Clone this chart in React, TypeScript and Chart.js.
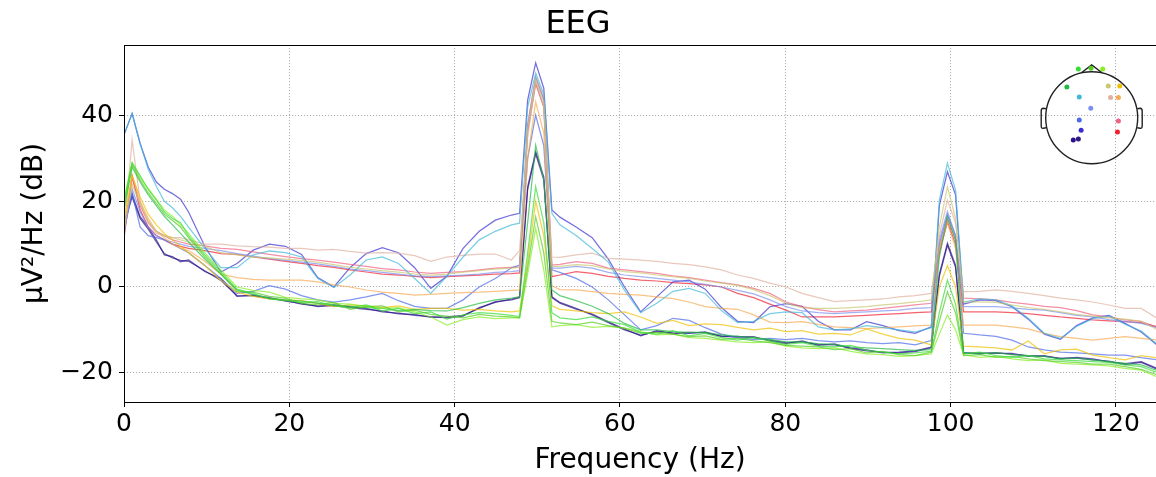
import React, { useEffect, useRef } from "react";
import { Chart, registerables } from "chart.js";

Chart.register(...registerables);

// Frequency bins (Hz)
const freqs = [
  0, 0.98, 1.95, 2.93, 3.91, 4.88, 5.86, 6.84, 7.81, 9.77,
  11.72, 13.67, 15.63, 17.58, 19.53, 21.48, 23.44, 25.39, 27.34, 29.3,
  31.25, 33.2, 35.16, 37.11, 39.06, 41.02, 42.97, 44.92, 46.88, 47.85,
  48.83, 49.8, 50.78, 51.76, 52.73, 54.69, 56.64, 58.59, 60.55, 62.5,
  64.45, 66.41, 68.36, 70.31, 72.27, 74.22, 76.17, 78.13, 80.08, 82.03,
  83.98, 85.94, 87.89, 89.84, 91.8, 93.75, 95.7, 97.66, 98.63, 99.61,
  100.59, 101.56, 103.52, 105.47, 107.42, 109.38, 111.33, 113.28, 115.23, 117.19,
  119.14, 121.09, 123.05, 125,
];

// PSD values per channel (dB)
const psdFp1 = [
  20, 29, 26, 22.7, 20.3, 17.5, 16, 15, 12, 7.5,
  3.5, -0.5, -1.5, -2.8, -3.2, -3.6, -3.4, -4.4, -4.8, -4.2,
  -5.6, -5, -6.2, -5.8, -7.5, -6.5, -6, -6.2, -6.6, -6.9,
  8, 23.4, 15, -6, -7.2, -7.6, -7, -8, -8.8, -10.6,
  -11, -10.2, -11.4, -10.8, -11.8, -12.4, -11.8, -12.6, -13.4, -13,
  -13.8, -14, -13.6, -14.8, -15.2, -15.6, -15.4, -15, -6, 1.6,
  -4, -15.6, -15.2, -16, -16.4, -16, -16.8, -17, -17.2, -17.4,
  -17.6, -18.2, -18.6, -20,
];
const psdFpz = [
  19, 28.5, 25, 22, 19.5, 17, 15.5, 14, 11.5, 7,
  3, -1, -1.2, -2.2, -2.6, -3.8, -4.2, -3.6, -5.2, -4.6,
  -4.4, -5.8, -5.4, -6.4, -6.8, -7.2, -6.4, -6.8, -7, -7.2,
  4.5, 16.4, 8, -8, -8.4, -8.8, -8.2, -9, -9.6, -10.8,
  -10.6, -11, -11.6, -11.4, -12.2, -12, -12.6, -13, -13.6, -13.8,
  -14, -14.6, -14.4, -15.4, -15, -15.8, -16, -15.2, -8, -1.1,
  -6, -16, -15.8, -16.4, -16.2, -16.8, -17.2, -17.4, -17.6, -18,
  -18, -18.6, -19.2, -20.5,
];
const psdFp2 = [
  20.5, 29, 25.5, 23, 20.5, 18, 16.5, 14.5, 12.5, 8,
  4, 0, -0.8, -1.2, -2.4, -2.8, -3, -3.8, -4, -4.6,
  -5, -4.8, -5.8, -7, -8.9, -7.6, -7, -7.4, -7.2, -7.2,
  3, 13.7, 4, -9.3, -9, -8.8, -9.4, -9.2, -9.6, -10.4,
  -11.2, -11, -11.8, -12, -12.4, -12.8, -13, -12.8, -13.8, -14.2,
  -14.4, -14.2, -15, -15.6, -15.8, -16.2, -16, -15.6, -11, -6.5,
  -10, -15.8, -16.4, -16.2, -16.8, -17.2, -17, -17.8, -18, -18.2,
  -18.4, -19, -19.4, -21,
];
const psdF7 = [
  18, 28, 24.5, 21.5, 19, 16.5, 14.5, 12.5, 10.5, 6.5,
  3, -0.7, -1.8, -2.6, -3, -3.3, -3.8, -4.2, -4.5, -4.8,
  -5, -5.5, -5.2, -5.5, -5.6, -4.8, -3.8, -3, -2.6, -2.3,
  15, 33.1, 25, -0.7, -2, -3.2, -4.5, -6.2, -8.5, -10,
  -10, -10.4, -10.6, -10.6, -11.2, -11.5, -11.8, -12.2, -12.8, -12.8,
  -13.2, -13.4, -14, -14.2, -14.4, -14.6, -14.8, -14.6, 7, 16.4,
  11, -15.4, -15.6, -15.3, -15.8, -16, -16.2, -16.8, -16.6, -17,
  -17.4, -17.8, -18.2, -19.5,
];
const psdFz = [
  13.5, 24, 19.5, 15.5, 13, 12, 11.5, 11, 10.5, 9.5,
  8, 7.5, 7, 6.8, 6.5, 6.2, 5.8, 5.2, 4.6, 4.2,
  3.8, 3.5, 3, 2.8, 3, 3.5, 3.8, 4.2, 4.4, 4.6,
  37, 48.5, 43, 4.8, 4.8, 5.2, 5, 4.2, 3.6, 3.3,
  2.8, 2.4, 2, 1.4, 0.9, 0.4, -0.6, -2, -3.8, -4.8,
  -5, -5, -4.8, -4.6, -4.2, -3.9, -3.5, -3, 14, 23.4,
  16, -3.5, -3.5, -3.6, -4.2, -4.8, -5.2, -5.8, -6.4, -6.8,
  -7.2, -7.5, -8, -10,
];
const psdF8 = [
  16, 26, 21, 17, 14.5, 12.5, 11, 9.5, 8, 5,
  1.5, -1.2, -2.2, -2.8, -3, -3.2, -3.8, -4.6, -4.2, -4.4,
  -4.8, -4.4, -5.2, -5, -5, -5.4, -5.2, -5.6, -5.8, -5.6,
  6, 20, 12, -4.4, -5.2, -5.6, -6, -6.2, -5.8, -7,
  -8.5, -7.8, -9, -8.6, -8.8, -9.4, -10, -9.6, -10.4, -10.2,
  -11, -10.8, -11.2, -9.8, -11, -12, -12.4, -13.5, 0, 5,
  0, -13.8, -14, -14.2, -14.7, -12.6, -15.6, -14.7, -14.5, -15.9,
  -16.5, -17, -16, -16.5,
];
const psdFC5 = [
  35.5, 40.5, 33.5, 27.5, 23.5, 20, 18.5, 16.5, 14, 9,
  4.5, 4.5, 7.5, 8.4, 8, 7, 2, -0.1, 2.8, 6.3,
  7, 5.5, 2, -1.5, 2.5, 7, 11, 13, 14.5, 14.9,
  42, 49.9, 45, 17.2, 14.5, 12, 9, 5.8, -0.8, -6,
  -3.8, -1, -0.3, -1.5, -5.5, -8.3, -8, -6.2, -5.8, -6,
  -9.3, -10, -9.8, -9, -9.5, -10, -10.5, -9.5, 20.3, 28.9,
  22.6, -3.5, -2.8, -3, -4.4, -7.3, -10.8, -12, -9.2, -7.4,
  -6.8, -8.7, -10.3, -13.4,
];
const psdFC2 = [
  13, 34.3, 20, 15, 12.5, 12, 11.5, 11.5, 11, 10,
  10, 9.6, 9.4, 9.3, 9, 9, 8.6, 8.8, 8.3, 7.9,
  8, 7.9, 7.3, 6, 7, 7.4, 7.7, 7.7, 6.3, 8.5,
  35, 48, 42, 7, 6.9, 7.5, 7.9, 6.7, 6.5, 6.3,
  6, 5.5, 5.2, 4.7, 4, 2.8, 2, 0.9, 0, -1.5,
  -2.5, -3.4, -3.2, -3, -2.8, -2.3, -2, -1.5, 12, 20.3,
  15, -1.1, -1, -0.7, -1, -1.5, -2, -2.6, -3, -3.5,
  -4.2, -5, -5, -7.3,
];
const psdFC6 = [
  13, 26, 20, 16, 13, 11.5, 10, 9, 8.5, 6,
  3, 2.2, 1.8, 1.6, 1.6, 1.6, 1.2, 0.5, 0, -0.7,
  -1.2, -1.5, -1.9, -1.7, -1.5, -1.3, -1.2, -1, -0.8, -0.7,
  30, 43.2, 36, 0.3, -0.6, -0.7, -1.1, -1.5, -1.7, -1.9,
  -2.3, -2.7, -3.5, -4.6, -5, -5.2, -6.5, -8.2, -8.3, -8.1,
  -8.7, -9.3, -9.5, -9.7, -9.5, -9.3, -9.1, -8.9, 9, 15,
  9, -8.9, -8.9, -8.9, -9.3, -9.8, -10.8, -11.6, -12, -12.4,
  -12, -11.6, -12, -12.4,
];
const psdCz = [
  12.5, 23, 17.5, 14, 12, 11, 10.5, 10, 9.5, 9,
  8.5, 7.8, 7.2, 6.6, 6.2, 5.8, 5.4, 4.8, 4.2, 3.8,
  3.4, 3, 2.6, 2.4, 2.6, 2.8, 3, 3.4, 3.6, 3.8,
  37.5, 48.8, 43.5, 4.4, 4.4, 4.8, 4.4, 3.4, 2.8, 2.4,
  2, 1.6, 1.2, 0.6, 0, -0.8, -1.6, -3, -4.6, -5.6,
  -6, -6.2, -6, -5.8, -5.6, -5.4, -5, -4.8, 11, 17.6,
  12, -4.6, -4.6, -4.6, -4.9, -5.2, -5.4, -6, -6.6, -7,
  -7.6, -8, -8.5, -9.5,
];
const psdC3 = [
  13, 22, 14, 12, 11.5, 11, 10, 9, 8, 5,
  2, -1.5, -1, 0.3, -0.5, -2, -3, -3.5, -3, -2.3,
  -1.5, -3.2, -4.5, -5, -5, -3, 0, 2, 4.5, 5.1,
  30, 40.1, 33, 4, 3.4, 2, 0, -3, -6.5, -10,
  -9, -7.3, -7.8, -9.5, -11, -11.8, -12.3, -12, -12.3, -12,
  -12.5, -12.8, -12.6, -13, -13.2, -13, -13.5, -12.5, 10, 17,
  12, -10.8, -11.2, -11.5, -12.4, -14, -14.7, -15.2, -15.4, -15.6,
  -15.9, -15.9, -16.5, -17,
];
const psdC4 = [
  12, 25.5, 19, 15, 13, 12, 11, 10.5, 10, 9.6,
  9, 8.8, 8.2, 7.6, 7.1, 6.6, 6.3, 5.8, 5.3, 4.8,
  4.3, 4, 3.5, 3.2, 3.4, 3.6, 4, 4.4, 4.6, 4.7,
  38, 49, 44, 5.1, 5.3, 5.9, 5.5, 4.4, 4, 3.6,
  3.2, 2.6, 2.2, 1.6, 1, 0.5, -0.3, -1.5, -3.5, -4.6,
  -5.3, -5.8, -5.6, -5.4, -5, -4.6, -4.2, -3.8, 9, 16,
  11, -2.6, -2.8, -3, -3.6, -4, -4.5, -4.8, -5.5, -6.5,
  -7, -7.7, -8, -9.5,
];
const psdP3 = [
  35.5, 40.5, 33.5, 28, 24.5, 22.8, 21.8, 20.5, 17.5, 9.5,
  3.5, 5.5, 8.6, 10, 9.5, 7.6, 2.2, 0, 4.5, 7.8,
  9.2, 8, 4.5, -0.3, 2.5, 9, 13, 15.6, 16.8, 17.2,
  43.6, 52.3, 46.4, 18, 16.3, 14, 11.5, 6.5, 0, -5.8,
  -2.3, 1.2, 1.6, -0.5, -4.8, -8, -8.3, -4.6, -3.9, -4.5,
  -8, -10, -10, -8.1, -9, -10.2, -10.8, -9.3, 19, 26.9,
  21.5, -4, -3, -3.2, -4.6, -7.5, -11, -12.2, -9, -7.2,
  -6.6, -8.5, -10.5, -13.6,
];
const psdP4 = [
  11.5, 26, 18, 14, 12, 11, 10, 9.5, 9, 8.5,
  7.8, 7.6, 7, 6.5, 6, 5.5, 5, 4.6, 4, 3.5,
  3, 2.8, 2.5, 2.2, 2.4, 2.6, 2.8, 3, 3.1, 3.3,
  36, 47.5, 42, 2.4, 2.8, 3.6, 3.2, 2.5, 2, 1.6,
  1.4, 1, 0.8, 0.5, 0, -1.5, -2.5, -4, -5.4, -7,
  -7, -7, -6.8, -6.6, -6.4, -6.2, -6, -5.8, 8, 15.2,
  10, -5.8, -5.8, -5.8, -6, -6.2, -6.6, -7, -7.3, -7.7,
  -7.9, -8.1, -8.3, -9.3,
];
const psdO1 = [
  15, 21.7, 16.4, 14, 11, 7.5, 7.1, 5.9, 6.3, 3.6,
  2, -2.2, -1.9, -2.5, -3.3, -3.8, -4.6, -4.2, -4.6, -5,
  -5.8, -6.1, -6.6, -6.9, -7.2, -6.8, -4.8, -3.6, -2.8, -2.3,
  23.4, 31.6, 25.7, -2.3, -3.6, -5, -6.5, -8.3, -10, -11.2,
  -10.4, -10.7, -10.8, -10.5, -11.6, -11.5, -11.8, -12.4, -13, -12.8,
  -13.4, -13.5, -14.2, -14.7, -15.4, -15.2, -14.9, -14, 3, 10.2,
  5.1, -15.5, -15.4, -15.5, -15.5, -16.2, -16, -16.8, -16.4, -16.8,
  -17.5, -17.9, -17.4, -19,
];
const psdPO3 = [
  14.5, 21, 16, 13.5, 10.5, 7.8, 6.8, 6.2, 6, 3.8,
  1.5, -2, -2.1, -2.7, -3.1, -4, -4.4, -4.4, -4.8, -5.2,
  -5.6, -6.3, -6.4, -7.1, -7, -6.6, -5, -3.4, -3, -2.5,
  22.8, 31, 25, -2.5, -3.8, -5.2, -6.3, -8.1, -9.8, -11.4,
  -10.2, -10.9, -10.6, -10.7, -11.4, -11.7, -11.6, -12.6, -13.2, -12.6,
  -13.6, -13.3, -14.4, -14.9, -15.2, -15.4, -15.1, -14.2, 2.5, 9.8,
  4.6, -15.3, -15.6, -15.3, -15.7, -16, -16.2, -16.6, -16.6, -17,
  -17.3, -18.1, -17.6, -19.2,
];

const channelNames = ["Fp1", "Fpz", "Fp2", "F7", "Fz", "F8", "FC5", "FC2", "FC6", "Cz", "C3", "C4", "P3", "P4", "O1", "PO3"];
const channelValues = [psdFp1, psdFpz, psdFp2, psdF7, psdFz, psdF8, psdFC5, psdFC2, psdFC6, psdCz, psdC3, psdC4, psdP3, psdP4, psdO1, psdPO3];
const channelColors = [
  "#33dd33", "#55cc22", "#88ee22", "#22bb44", "#c8c870", "#f0c000",
  "#40b8d8", "#e0b0a0", "#f8a850", "#7a90f0", "#4a6ae8", "#f06080",
  "#3a30d0", "#f02030", "#2a1090", "#301a80",
];
// sensor positions in head-radius units (x right, y down)
const sensorPos = [
  [-0.29, -1.06], [-0.015, -1.075], [0.24, -1.06], [-0.54, -0.67], [0.36, -0.69], [0.61, -0.69],
  [-0.27, -0.45], [0.41, -0.44], [0.58, -0.44], [-0.02, -0.21], [-0.27, 0.05], [0.58, 0.07],
  [-0.23, 0.27], [0.56, 0.31], [-0.4, 0.48], [-0.29, 0.46],
];

const xTicksMax = 124.84;
const yMin = -26.84;
const yMax = 56.48;

function withAlpha(hex: string, a: number) {
  const n = parseInt(hex.slice(1), 16);
  return `rgba(${(n >> 16) & 255},${(n >> 8) & 255},${n & 255},${a})`;
}

const FONT = "'DejaVu Sans', 'Liberation Sans', sans-serif";

const framePlugin = {
  id: "frame",
  afterDraw(chart: any) {
    const { ctx, chartArea } = chart;
    ctx.save();
    ctx.strokeStyle = "#000";
    ctx.lineWidth = 1;
    ctx.strokeRect(chartArea.left + 0.5, chartArea.top + 0.5, chartArea.right - chartArea.left, chartArea.bottom - chartArea.top);
    ctx.restore();
  },
};

const headPlugin = {
  id: "head",
  afterDraw(chart: any) {
    const { ctx, chartArea } = chart;
    const cx = chartArea.right - 64.3;
    const cy = chartArea.top + 72.8;
    const r = 46;
    ctx.save();
    ctx.strokeStyle = "#222";
    ctx.lineWidth = 1.4;
    ctx.beginPath();
    ctx.arc(cx, cy, r, 0, Math.PI * 2);
    ctx.stroke();
    // nose
    ctx.beginPath();
    ctx.moveTo(cx - 10, cy - r * 0.985);
    ctx.lineTo(cx, cy - r * 1.15);
    ctx.lineTo(cx + 10, cy - r * 0.985);
    ctx.stroke();
    // ears
    for (const s of [-1, 1]) {
      ctx.beginPath();
      ctx.moveTo(cx + s * r * 0.99, cy - 9);
      ctx.lineTo(cx + s * (r + 2.5), cy - 9.5);
      ctx.quadraticCurveTo(cx + s * (r + 4.5), cy - 9.5, cx + s * (r + 4.5), cy - 6.5);
      ctx.lineTo(cx + s * (r + 4.5), cy + 8);
      ctx.quadraticCurveTo(cx + s * (r + 4.5), cy + 11, cx + s * (r + 2.5), cy + 10.5);
      ctx.lineTo(cx + s * r * 0.99, cy + 10);
      ctx.stroke();
    }
    sensorPos.forEach((p, i) => {
      ctx.beginPath();
      ctx.fillStyle = channelColors[i];
      ctx.arc(cx + p[0] * r, cy + p[1] * r, 2.5, 0, Math.PI * 2);
      ctx.fill();
    });
    ctx.restore();
  },
};

export default function App() {
  const ref = useRef<HTMLCanvasElement | null>(null);
  useEffect(() => {
    if (!ref.current) return;
    const datasets = channelValues.map((vals, i) => ({
      label: channelNames[i],
      data: vals.map((v, k) => ({ x: freqs[k], y: v })),
      borderColor: withAlpha(channelColors[i], 0.7),
      borderWidth: 1.25,
      pointRadius: 0,
      tension: 0,
      fill: false,
    }));
    const chart = new Chart(ref.current, {
      type: "line",
      data: { datasets },
      plugins: [framePlugin, headPlugin],
      options: {
        animation: false,
        responsive: false,
        devicePixelRatio: 1,
        layout: { padding: 0 },
        plugins: {
          legend: { display: false },
          tooltip: { enabled: false },
          title: {
            display: true,
            text: "EEG",
            color: "#000",
            font: { family: FONT, size: 32, weight: "normal" },
            padding: { top: 5, bottom: 1.6 },
          },
        },
        scales: {
          x: {
            type: "linear",
            min: 0,
            max: xTicksMax,
            afterFit: (s: any) => { s.height = 75; },
            ticks: {
              stepSize: 20,
              includeBounds: false,
              color: "#000",
              padding: 2,
              maxRotation: 0,
              font: { family: FONT, size: 25 },
            },
            grid: { color: "#b0b0b0", lineWidth: 1, tickLength: 5, tickColor: "#000", tickWidth: 1, tickBorderDash: [] },
            border: { display: false, dash: [1.2, 1.8] },
            title: {
              display: true,
              text: "Frequency (Hz)",
              color: "#000",
              font: { family: FONT, size: 28 },
              padding: { top: 0, bottom: -1 },
            },
          },
          y: {
            type: "linear",
            min: yMin,
            max: yMax,
            afterFit: (s: any) => { s.width = 124; },
            ticks: {
              stepSize: 20,
              includeBounds: false,
              color: "#000",
              padding: 6,
              font: { family: FONT, size: 25 },
              callback: (v: any) => (Number(v) < 0 ? "\u2212" + Math.abs(Number(v)) : String(v)),
            },
            grid: { color: "#b0b0b0", lineWidth: 1, tickLength: 5, tickColor: "#000", tickWidth: 1, tickBorderDash: [] },
            border: { display: false, dash: [1.2, 1.8] },
            title: {
              display: true,
              text: "µV²/Hz (dB)",
              color: "#000",
              font: { family: FONT, size: 28 },
              padding: { top: 18, bottom: 0 },
            },
          },
        },
      },
    } as any);
    return () => chart.destroy();
  }, []);
  return (
    <div style={{ position: "fixed", left: 0, top: 0, width: 1156, height: 477, background: "#fff" }}>
      <canvas ref={ref} width={1156} height={477} style={{ display: "block" }} />
    </div>
  );
}
